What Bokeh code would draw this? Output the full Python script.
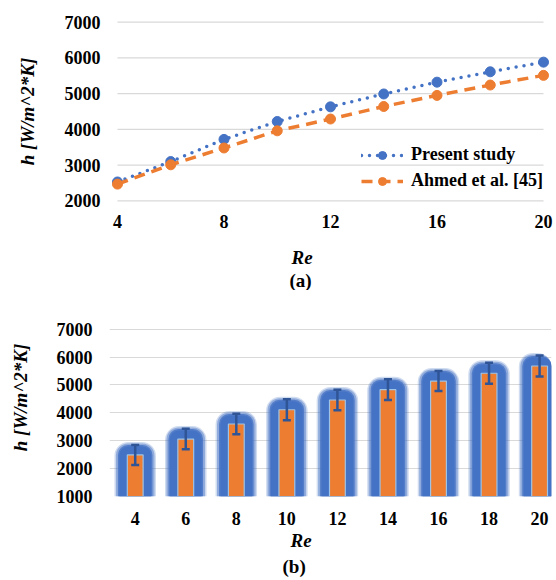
from bokeh.plotting import figure
from bokeh.models import (Range1d, FixedTicker, Title, Legend, LegendItem,
                          ColumnDataSource, Whisker, TeeHead)
from bokeh.layouts import column
from bokeh.embed import file_html
from bokeh.resources import INLINE

# ---------------- data ----------------
re_a = [4, 6, 8, 10, 12, 14, 16, 18, 20]
h_present = [2530, 3100, 3720, 4220, 4630, 4990, 5320, 5610, 5880]
h_ahmed = [2470, 3010, 3480, 3960, 4290, 4640, 4950, 5240, 5510]
xticks_a = [4, 8, 12, 16, 20]
yticks_a = [2000, 3000, 4000, 5000, 6000, 7000]

re_b = [4, 6, 8, 10, 12, 14, 16, 18, 20]
h_b = [2490, 3060, 3600, 4110, 4460, 4830, 5140, 5420, 5680]
err_b = [360, 370, 370, 375, 370, 370, 360, 375, 375]
xticks_b = [4, 6, 8, 10, 12, 14, 16, 18, 20]
yticks_b = [1000, 2000, 3000, 4000, 5000, 6000, 7000]

labels_a = {"y": "h [W/m^2*K]", "x": "Re", "cap": "(a)"}
labels_b = {"y": "h [W/m^2*K]", "x": "Re", "cap": "(b)"}
legend_names = ["Present study", "Ahmed et al. [45]"]

BLUE = "#4472C4"
ORANGE = "#ED7D31"
GRID = "#D9D9D9"
FONT = "Liberation Serif"
FS = "18px"
FT = "19px"
W = 556


def style_axes(p, xticks, yticks, xstand, ystand, ylabel, ylabel_standoff, spacer):
    p.xaxis.ticker = FixedTicker(ticks=xticks)
    p.yaxis.ticker = FixedTicker(ticks=yticks)
    for ax in p.xaxis + p.yaxis:
        ax.axis_line_color = None
        ax.major_tick_line_color = None
        ax.minor_tick_line_color = None
        ax.major_tick_out = 0
        ax.major_tick_in = 0
        ax.major_label_text_font = FONT
        ax.major_label_text_font_style = "bold"
        ax.major_label_text_font_size = FS
        ax.major_label_text_color = "black"
    p.xaxis.major_label_standoff = xstand
    p.yaxis.major_label_standoff = ystand
    p.yaxis.axis_label = ylabel
    p.yaxis.axis_label_standoff = ylabel_standoff
    p.yaxis.axis_label_text_font = FONT
    p.yaxis.axis_label_text_font_style = "bold italic"
    p.yaxis.axis_label_text_font_size = FT
    p.yaxis.axis_label_text_color = "black"
    if spacer:
        # blank x-axis label used only as spacing above the "Re" caption
        p.xaxis.axis_label = " "
        p.xaxis.axis_label_standoff = 0
        p.xaxis.axis_label_text_font_size = "10px"
    p.xgrid.visible = False
    p.outline_line_color = None
    p.background_fill_color = "white"
    p.border_fill_color = "white"


def add_title(p, text, side, offset, standoff, style="bold italic"):
    p.add_layout(Title(text=text, align="left", offset=offset, standoff=standoff,
                       text_font=FONT, text_font_style=style, text_font_size=FT,
                       text_color="black"), side)


# ---------------- chart (a) ----------------
HA = 290
fa = (100, 18, 451, 188, (3.7, 20.3), (1900, 7100))
pa = figure(width=W, height=HA, x_range=Range1d(*fa[4]), y_range=Range1d(*fa[5]),
            output_backend="svg", toolbar_location=None,
            min_border_left=fa[0], min_border_right=W - fa[0] - fa[2],
            min_border_top=fa[1], min_border_bottom=HA - fa[1] - fa[3])
style_axes(pa, xticks_a, yticks_a, 10, 9, labels_a["y"], 24, True)
pa.ygrid.visible = False
pa.segment(x0=[xticks_a[0]] * len(yticks_a), x1=[xticks_a[-1]] * len(yticks_a),
           y0=yticks_a, y1=yticks_a, line_color=GRID, line_width=1.2, level="underlay")

l1 = pa.line(re_a, h_present, line_color=BLUE, line_width=3.5, line_dash="0 8",
             line_cap="round")
m1 = pa.scatter(re_a, h_present, size=10, fill_color=BLUE, line_color=BLUE)
l2 = pa.line(re_a, h_ahmed, line_color=ORANGE, line_width=3.5, line_dash="11 7")
m2 = pa.scatter(re_a, h_ahmed, size=10, fill_color=ORANGE, line_color=ORANGE)

leg = Legend(items=[LegendItem(label=legend_names[0], renderers=[l1, m1]),
                    LegendItem(label=legend_names[1], renderers=[l2, m2])],
             location=(252, 13), padding=0, margin=0, spacing=5,
             glyph_width=42, glyph_height=20, label_height=20, label_standoff=8,
             border_line_color=None, background_fill_alpha=0,
             label_text_font=FONT, label_text_font_style="bold",
             label_text_font_size=FS, label_text_color="black")
pa.add_layout(leg)

add_title(pa, labels_a["x"], "below", 182, 0)
add_title(pa, labels_a["cap"], "below", 180, 0, style="bold")

# ---------------- chart (b) ----------------
HB = 290
ppu_x = 25.56
xb0 = re_b[0] - 26 / ppu_x
xb1 = re_b[0] + (W - 135) / ppu_x
# frame extends above the 7000 line so that the y caption sits where the reference has it
fb = (109, 8, 447, 198, (xb0, xb1), (1000, 8100))
pb = figure(width=W, height=HB, x_range=Range1d(*fb[4]), y_range=Range1d(*fb[5]),
            output_backend="svg", toolbar_location=None,
            min_border_left=fb[0], min_border_right=W - fb[0] - fb[2],
            min_border_top=fb[1], min_border_bottom=HB - fb[1] - fb[3])
style_axes(pb, xticks_b, yticks_b, 15, 17, labels_b["y"], 23, False)
pb.ygrid.grid_line_color = GRID
pb.ygrid.grid_line_width = 1.2

dx = (fb[4][1] - fb[4][0]) / fb[2]   # data units per px (x)
dy = (fb[5][1] - fb[5][0]) / fb[3]   # data units per px (y)
base = fb[5][0]

# glow layers behind the bars
for wpx, up, alpha, rad in [(42, 13, 0.25, 14), (39, 11.5, 0.45, 12), (35, 10, 0.8, 10), (32, 8.5, 1.0, 9)]:
    pb.vbar(x=re_b, width=wpx * dx, bottom=base, top=[v + up * dy for v in h_b],
            fill_color=BLUE, fill_alpha=alpha, line_color=None,
            border_radius=(rad, rad, 0, 0))

pb.vbar(x=re_b, width=16 * dx, bottom=base, top=h_b, fill_color=ORANGE,
        line_color="#9DC3E6", line_width=1.2)

src = ColumnDataSource(dict(x=re_b, up=[v + e for v, e in zip(h_b, err_b)],
                            lo=[v - e for v, e in zip(h_b, err_b)]))
EB = "#2F5597"
pb.add_layout(Whisker(base="x", upper="up", lower="lo", source=src, level="overlay",
                      line_color=EB, line_width=2.5,
                      upper_head=TeeHead(size=8, line_color=EB, line_width=2.5),
                      lower_head=TeeHead(size=8, line_color=EB, line_width=2.5)))

add_title(pb, labels_b["x"], "below", 181, 0)
add_title(pb, labels_b["cap"], "below", 173, 6, style="bold")

layout = column(pa, pb, spacing=0)
open("out.html", "w").write(file_html(layout, INLINE))
